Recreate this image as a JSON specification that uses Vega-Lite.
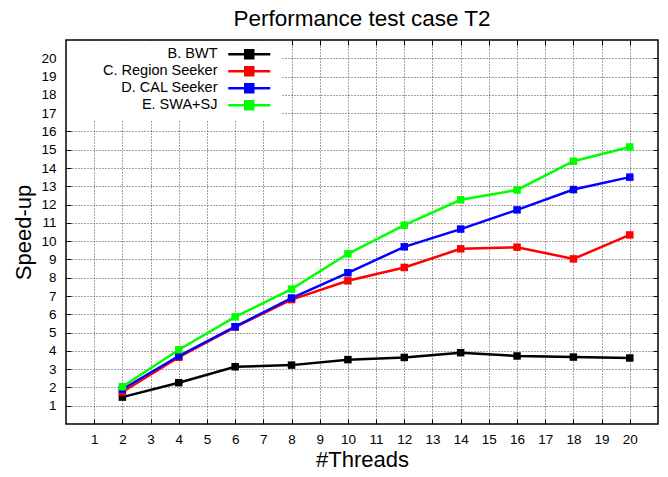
{
  "$schema": "https://vega.github.io/schema/vega-lite/v6.json",
  "width": 592,
  "height": 384,
  "autosize": {"type": "none"},
  "padding": {"left": 66, "top": 40, "right": 10, "bottom": 53},
  "background": "white",
  "config": {
    "font": "Liberation Sans",
    "view": {"stroke": "#000", "strokeWidth": 1.5},
    "axis": {
      "domain": false,
      "gridColor": "#333",
      "gridDash": [1, 2],
      "gridWidth": 1,
      "gridOpacity": 0.9,
      "tickColor": "#000",
      "tickSize": -5,
      "tickWidth": 1,
      "labelColor": "#000",
      "labelFontSize": 13.5,
      "titleColor": "#000",
      "titleFontSize": 22,
      "titleFontWeight": "normal"
    }
  },
  "title": {
    "text": "Performance test case T2",
    "fontSize": 22.5,
    "fontWeight": "normal",
    "color": "#000",
    "offset": 9
  },
  "data": {
    "values": [
      {"threads": 2, "series": "B. BWT", "speedup": 1.47},
      {"threads": 4, "series": "B. BWT", "speedup": 2.26},
      {"threads": 6, "series": "B. BWT", "speedup": 3.13},
      {"threads": 8, "series": "B. BWT", "speedup": 3.22},
      {"threads": 10, "series": "B. BWT", "speedup": 3.52},
      {"threads": 12, "series": "B. BWT", "speedup": 3.64},
      {"threads": 14, "series": "B. BWT", "speedup": 3.9},
      {"threads": 16, "series": "B. BWT", "speedup": 3.72},
      {"threads": 18, "series": "B. BWT", "speedup": 3.66},
      {"threads": 20, "series": "B. BWT", "speedup": 3.61},
      {"threads": 2, "series": "C. Region Seeker", "speedup": 1.75},
      {"threads": 4, "series": "C. Region Seeker", "speedup": 3.65},
      {"threads": 6, "series": "C. Region Seeker", "speedup": 5.3},
      {"threads": 8, "series": "C. Region Seeker", "speedup": 6.8},
      {"threads": 10, "series": "C. Region Seeker", "speedup": 7.83},
      {"threads": 12, "series": "C. Region Seeker", "speedup": 8.56},
      {"threads": 14, "series": "C. Region Seeker", "speedup": 9.58},
      {"threads": 16, "series": "C. Region Seeker", "speedup": 9.67},
      {"threads": 18, "series": "C. Region Seeker", "speedup": 9.03},
      {"threads": 20, "series": "C. Region Seeker", "speedup": 10.34},
      {"threads": 2, "series": "D. CAL Seeker", "speedup": 1.9},
      {"threads": 4, "series": "D. CAL Seeker", "speedup": 3.72},
      {"threads": 6, "series": "D. CAL Seeker", "speedup": 5.32},
      {"threads": 8, "series": "D. CAL Seeker", "speedup": 6.89},
      {"threads": 10, "series": "D. CAL Seeker", "speedup": 8.27},
      {"threads": 12, "series": "D. CAL Seeker", "speedup": 9.69},
      {"threads": 14, "series": "D. CAL Seeker", "speedup": 10.66},
      {"threads": 16, "series": "D. CAL Seeker", "speedup": 11.71},
      {"threads": 18, "series": "D. CAL Seeker", "speedup": 12.82},
      {"threads": 20, "series": "D. CAL Seeker", "speedup": 13.5},
      {"threads": 2, "series": "E. SWA+SJ", "speedup": 2.04},
      {"threads": 4, "series": "E. SWA+SJ", "speedup": 4.06},
      {"threads": 6, "series": "E. SWA+SJ", "speedup": 5.86},
      {"threads": 8, "series": "E. SWA+SJ", "speedup": 7.38},
      {"threads": 10, "series": "E. SWA+SJ", "speedup": 9.31},
      {"threads": 12, "series": "E. SWA+SJ", "speedup": 10.87},
      {"threads": 14, "series": "E. SWA+SJ", "speedup": 12.26},
      {"threads": 16, "series": "E. SWA+SJ", "speedup": 12.8},
      {"threads": 18, "series": "E. SWA+SJ", "speedup": 14.37},
      {"threads": 20, "series": "E. SWA+SJ", "speedup": 15.15}
    ]
  },
  "layer": [
    {
      "mark": {"type": "line", "strokeWidth": 2.5, "point": {"shape": "square", "size": 56, "filled": true, "opacity": 1}},
      "encoding": {
        "x": {"field": "threads", "type": "quantitative", "scale": {"domain": [0, 21], "nice": false, "zero": false},
              "axis": {"orient": "bottom", "grid": true, "values": [1,2,3,4,5,6,7,8,9,10,11,12,13,14,15,16,17,18,19,20], "labelPadding": 13, "title": "#Threads", "titlePadding": 4}},
        "y": {"field": "speedup", "type": "quantitative", "scale": {"domain": [0, 21], "nice": false, "zero": false},
              "axis": {"orient": "left", "grid": true, "values": [1,2,3,4,5,6,7,8,9,10,11,12,13,14,15,16,17,18,19,20], "labelPadding": 15, "title": "Speed-up", "titlePadding": 5}},
        "color": {
          "field": "series", "type": "nominal",
          "scale": {"domain": ["B. BWT", "C. Region Seeker", "D. CAL Seeker", "E. SWA+SJ"], "range": ["#000000", "#ff0000", "#0000ff", "#00ff00"]},
          "legend": {
            "title": null,
            "orient": "none",
            "legendX": 1,
            "legendY": 1,
            "padding": 6,
            "fillColor": "white",
            "symbolType": "M-4.2,0H4.2M-0.8,-0.8H0.8V0.8H-0.8Z",
            "symbolSize": 100,
            "symbolStrokeWidth": 2.5,
            "symbolOffset": 169,
            "labelAlign": "right",
            "labelOffset": -39,
            "labelFontSize": 14.5,
            "labelColor": "#000",
            "rowPadding": -9,
            "encode": {"symbols": {"update": {"fill": {"scale": "color", "field": "value"}, "stroke": {"scale": "color", "field": "value"}, "opacity": {"value": 1}}}}
          }
        }
      }
    },
    {
      "mark": {"type": "point", "opacity": 0},
      "encoding": {
        "x": {"field": "threads", "type": "quantitative", "scale": {"domain": [0, 21], "nice": false, "zero": false},
              "axis": {"orient": "top", "values": [1,2,3,4,5,6,7,8,9,10,11,12,13,14,15,16,17,18,19,20], "labels": false, "grid": false, "title": null}},
        "y": {"field": "speedup", "type": "quantitative", "scale": {"domain": [0, 21], "nice": false, "zero": false},
              "axis": {"orient": "right", "values": [1,2,3,4,5,6,7,8,9,10,11,12,13,14,15,16,17,18,19,20], "labels": false, "grid": false, "title": null}}
      }
    }
  ]
}
